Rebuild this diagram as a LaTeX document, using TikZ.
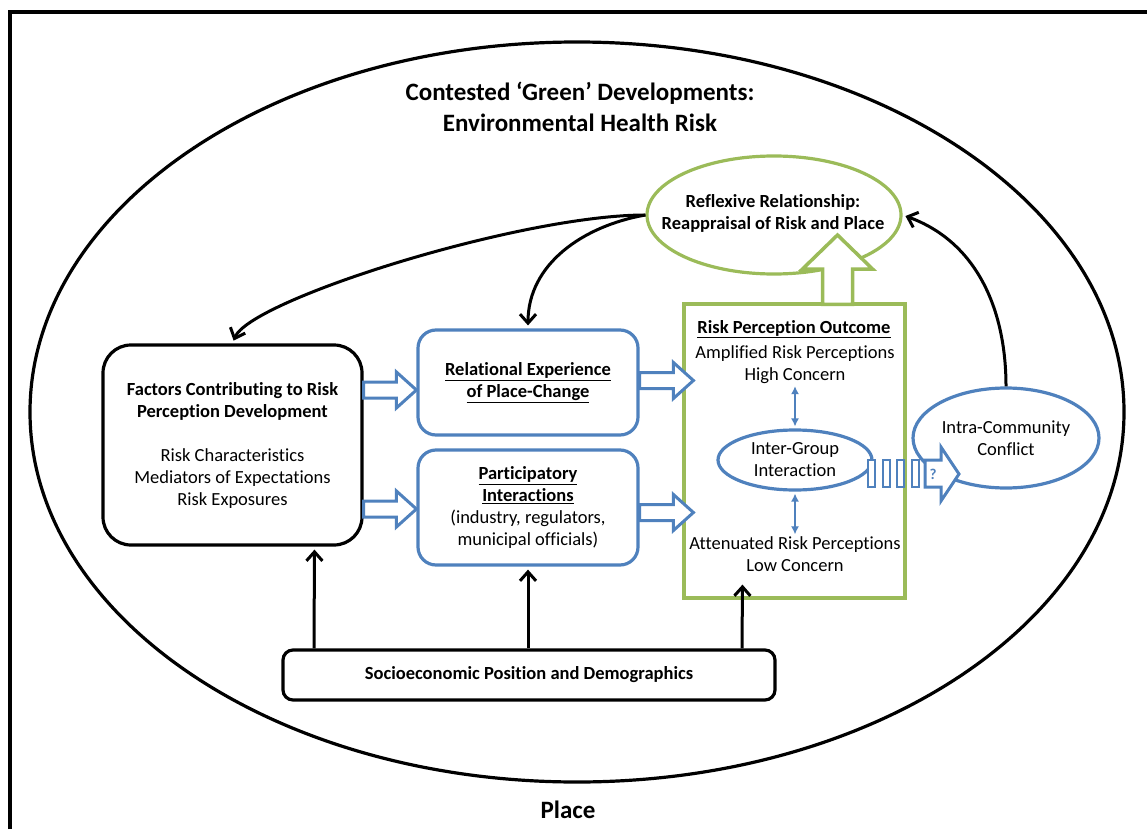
\documentclass[tikz,border=0pt]{standalone}
\usepackage{fontspec}
\setmainfont{Carlito}[Ligatures=NoCommon]
\usetikzlibrary{positioning,calc,arrows.meta,shapes.geometric}

\definecolor{boxblue}{RGB}{79,129,189}
\definecolor{boxgreen}{RGB}{155,187,89}

% hollow block arrow to the right: from #1 (start) to the x of #2 (tip)
\newcommand{\hollowright}[3]{%
  \draw[#3] let \p1=#1, \p2=#2 in
    (\x1,\y1+8pt) -- (\x2-20pt,\y1+8pt) -- (\x2-20pt,\y1+18pt) -- (\x2,\y1)
    -- (\x2-20pt,\y1-18pt) -- (\x2-20pt,\y1-8pt) -- (\x1,\y1-8pt) -- cycle;}
% hollow block arrow upwards: from #1 (start) to the y of #2 (tip)
\newcommand{\hollowup}[3]{%
  \draw[#3] let \p1=#1, \p2=#2 in
    (\x1-15pt,\y1) -- (\x1-15pt,\y2-34pt) -- (\x1-35pt,\y2-34pt) -- (\x1,\y2)
    -- (\x1+35pt,\y2-34pt) -- (\x1+15pt,\y2-34pt) -- (\x1+15pt,\y1) -- cycle;}

\tikzset{
  every node/.style={font=\fontsize{18.5}{22}\selectfont, align=center, inner sep=0pt},
  blackbox/.style={draw, line width=3.2pt, rounded corners=28pt, fill=white},
  bluebox/.style={draw=boxblue, line width=3.2pt, rounded corners=18pt, fill=white},
  greenbox/.style={draw=boxgreen, line width=3.2pt},
  blueoval/.style={ellipse, draw=boxblue, line width=3.2pt, fill=white},
  greenoval/.style={ellipse, draw=boxgreen, line width=3.2pt, fill=white},
  headtext/.style={font=\fontsize{18.5}{22}\selectfont\bfseries},
  flow/.style={line width=3pt, -{Straight Barb[length=9pt,width=16pt,line width=3pt]}, shorten >=3pt},
  twoway/.style={boxblue, line width=1.3pt, {Latex[length=8pt,width=8pt]}-{Latex[length=8pt,width=8pt]}, shorten <=2pt, shorten >=2pt},
  bluehollow/.style={draw=boxblue, line width=3pt, fill=white, line join=miter},
  greenhollow/.style={draw=boxgreen, line width=3.5pt, fill=white, line join=miter},
}

\begin{document}
\begin{tikzpicture}[x=1pt, y=-1pt]
  \useasboundingbox (0,0) rectangle (1147,829);
  \draw[line width=3.5pt] (10,829) -- (10,12) -- (1147,12);

  % place
  \node[ellipse, draw, line width=3.2pt, minimum width=1094pt, minimum height=740pt] (place) at (577,412) {};
  \node[font=\fontsize{25}{30}\selectfont\bfseries] (placelbl) at (568,810) {Place};
  \node[font=\fontsize{25}{31}\selectfont\bfseries] (title) at (580,107) {Contested ‘Green’ Developments:\\Environmental Health Risk};

  % boxes
  \node[blackbox, minimum width=259pt, minimum height=200pt] (fac) at (232.5,445) {};
  \node (factxt) at (fac) {\textbf{Factors Contributing to Risk}\\\textbf{Perception Development}\\[22pt]Risk Characteristics\\Mediators of Expectations\\Risk Exposures};
  \node[bluebox, minimum width=220pt, minimum height=105pt] (rel) at (528,382.5) {};
  \node[headtext] (reltxt) at (rel) {\underline{Relational Experience}\\\underline{of Place-Change}};
  \node[bluebox, minimum width=220pt, minimum height=115pt] (par) at (528,507.5) {};
  \node (partxt) at (par) {\textbf{\underline{Participatory}}\\\textbf{\underline{Interactions}}\\(industry, regulators,\\municipal officials)};
  \node[blackbox, rounded corners=10pt, minimum width=492pt, minimum height=50pt] (socio) at (529,675) {};
  \node[headtext] (sociotxt) at (socio) {Socioeconomic Position and Demographics};

  % risk perception outcome
  \node[greenbox, minimum width=221pt, minimum height=294pt] (outcome) at (794.5,451) {};
  \node[headtext] (outhead) at (794,329) {\underline{Risk Perception Outcome}};
  \node (amp) at (795,365) {Amplified Risk Perceptions\\High Concern};
  \node[blueoval, minimum width=154pt, minimum height=60pt] (inter) at (795,460) {Inter-Group\\Interaction};
  \node (att) at (795,554) {Attenuated Risk Perceptions\\Low Concern};
  \draw[twoway] (amp) -- (inter);
  \draw[twoway] (inter) -- (att);

  \node[blueoval, minimum width=186pt, minimum height=100pt] (conflict) at (1006,438) {Intra-Community\\Conflict};
  \node[greenoval, minimum width=254pt, minimum height=118pt] (refl) at (774,215) {};
  \node[headtext] (refltxt) at (773,213) {Reflexive Relationship:\\Reappraisal of Risk and Place};

  % block arrows
  \hollowright{([yshift=55pt]fac.east)}{(rel.west)}{bluehollow}
  \hollowright{([yshift=-64pt]fac.east)}{(par.west)}{bluehollow}
  \hollowright{([yshift=2pt]rel.east)}{([xshift=11pt]outcome.west)}{bluehollow}
  \hollowright{([yshift=-5pt]par.east)}{([xshift=11pt]outcome.west)}{bluehollow}
  \hollowup{([xshift=43pt,yshift=-2pt]outcome.north)}{([yshift=-20pt]refl.center)}{greenhollow}

  % uncertain link to conflict
  \foreach \sx in {868,883,897,912}
    \draw[boxblue, line width=2.5pt, fill=white] (\sx,460) rectangle ++(7,27);
  \draw[boxblue, line width=3pt, fill=white, line join=miter]
    (925,460) -- (941,460) -- (941,447) -- (959,474) -- (941,501) -- (941,487) -- (925,487) -- cycle;
  \node[text=boxblue, font=\fontsize{15}{16}\selectfont\bfseries] (qmark) at (933,474) {?};

  % feedback and influence
  \draw[flow] (refl.west) .. controls (520,215) and (250,300) .. (fac.north);
  \draw[flow] (refl.west) to[out=190, in=90] (rel.north);
  \draw[flow] (conflict.north) to[out=90, in=-20] (refl.east);
  \draw[flow] ([xshift=-215pt]socio.north) -- ([xshift=82pt]fac.south);
  \draw[flow] (socio.north -| par.south) -- (par.south);
  \draw[flow] ([xshift=213pt]socio.north) -- ([xshift=-52pt,yshift=18pt]outcome.south);
\end{tikzpicture}
\end{document}
